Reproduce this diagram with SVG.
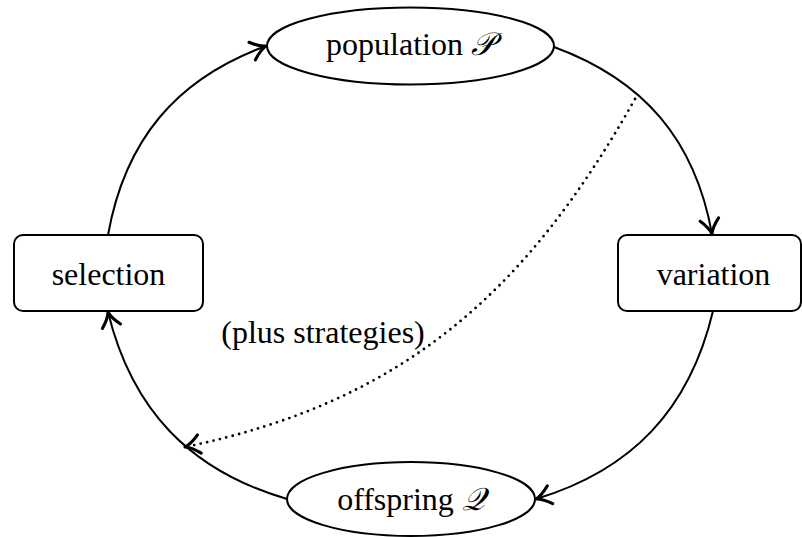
<svg xmlns="http://www.w3.org/2000/svg" width="802" height="537" viewBox="0 0 802 537">
<style>
.shape{fill:#fff;stroke:#000;stroke-width:2}
.lbl{font-size:32px;fill:#000;text-anchor:middle}
.math{font-style:italic}
.edge{fill:none;stroke:#000;stroke-width:2;marker-end:url(#arr)}
.dot{fill:none;stroke:#000;stroke-width:2.8;stroke-linecap:round;stroke-dasharray:0 6.6;marker-end:url(#arr)}
</style>
<defs>
<marker id="arr" markerUnits="userSpaceOnUse" markerWidth="24" markerHeight="24" refX="0" refY="0" viewBox="-13 -9 15 18" orient="auto" overflow="visible">
<path d="M-11,-7 C-6.5,-2.8 -2.8,-0.7 0,0 C-2.8,0.7 -6.5,2.8 -11,7" fill="none" stroke="#000" stroke-width="2.3" stroke-linecap="round" stroke-linejoin="round" stroke-dasharray="none"/>
</marker>
</defs>
<g id="connectors">
<path class="edge" d="M108,235 C125,140 176,79 266,46"/>
<path class="edge" d="M554,47 C644,80 695,140 712,234"/>
<path class="edge" d="M713,311 C689.5,409.6 632,470 536,499"/>
<path class="edge" d="M287,499 C189.7,470.4 131.9,409.8 108,312"/>
<path class="dot" d="M635,99 C526,293 403,402 185,447"/>
</g>
<g id="population">
<ellipse class="shape" cx="410.5" cy="46" rx="143.5" ry="38.5"/>
<text class="lbl" font-family="'Liberation Serif', 'Times New Roman', serif" x="410" y="55">population <tspan class="math" font-family="'DejaVu Serif', serif">𝒫</tspan></text>
</g>
<g id="variation">
<rect class="shape" x="618" y="235" width="183" height="76" rx="9"/>
<text class="lbl" font-family="'Liberation Serif', 'Times New Roman', serif" x="713.5" y="285">variation</text>
</g>
<g id="offspring">
<ellipse class="shape" cx="411" cy="499" rx="124" ry="37"/>
<text class="lbl" font-family="'Liberation Serif', 'Times New Roman', serif" x="411" y="510">offspring <tspan class="math" font-family="'DejaVu Serif', serif">𝒬</tspan></text>
</g>
<g id="selection">
<rect class="shape" x="14" y="235" width="189" height="76" rx="9"/>
<text class="lbl" font-family="'Liberation Serif', 'Times New Roman', serif" x="108.5" y="285">selection</text>
</g>
<g id="note">
<text class="lbl" font-family="'Liberation Serif', 'Times New Roman', serif" x="323" y="343">(plus strategies)</text>
</g>
</svg>
